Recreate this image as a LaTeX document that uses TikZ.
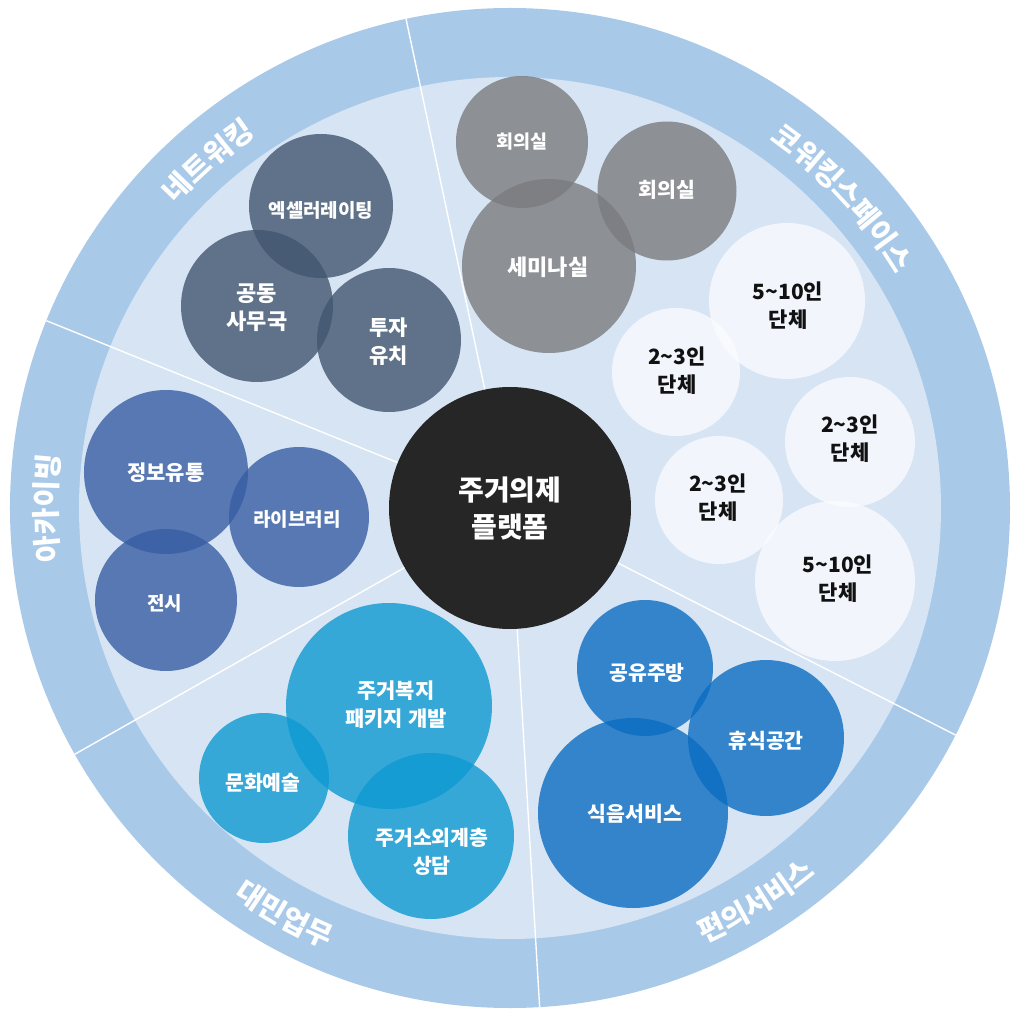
\documentclass[tikz,border=0pt]{standalone}
\usepackage{fontspec}
\setmainfont{Noto Sans CJK KR}
\usetikzlibrary{decorations.text}
\definecolor{ringc}{HTML}{A9C9E9}
\definecolor{innerc}{HTML}{D6E4F4}
\definecolor{slatec}{HTML}{43566F}
\definecolor{archc}{HTML}{385DA3}
\definecolor{cyanc}{HTML}{0D9AD2}
\definecolor{bluec}{HTML}{0B6DC1}
\definecolor{grayc}{HTML}{7B7B7E}
\definecolor{whitec}{HTML}{FAFBFE}
\definecolor{corec}{HTML}{262626}
\definecolor{darktext}{HTML}{111111}
\begin{document}
\begin{tikzpicture}[x=1pt,y=1pt,
  bub/.style={circle, inner sep=0pt, outer sep=0pt, draw=none, fill opacity=0.8, minimum size=#1},
  slate/.style={bub=#1, fill=slatec},
  arch/.style={bub=#1, fill=archc},
  cyanb/.style={bub=#1, fill=cyanc},
  blueb/.style={bub=#1, fill=bluec},
  grayb/.style={bub=#1, fill=grayc},
  whiteb/.style={bub=#1, fill=whitec},
  lbl/.style={text=white, align=center, inner sep=0pt, font=\bfseries\fontsize{#1}{28}\selectfont},
  dlbl/.style={lbl=#1, text=darktext},
  sepline/.style={draw=white, line width=1.4pt},
  ringlbl/.style={decorate, decoration={text along path, text align=center, text color=white, text={#1}}}
]
\useasboundingbox (-510,-504) rectangle (500,508);
% rings
\fill[ringc] (0,0) circle[radius=500];
\fill[innerc] (0,0) circle[radius=431];
% sector lines
\coordinate (O) at (0,0);
\coordinate (s1) at (102:500);
\coordinate (s2) at (158:500);
\coordinate (s3) at (209.5:500);
\coordinate (s4) at (273.4:500);
\coordinate (s5) at (333:500);
\foreach \e in {s1,s2,s3,s4,s5} \draw[sepline] (O) -- (\e);
% ring labels
\path[ringlbl={|\bfseries\fontsize{29}{30}\selectfont|네트워킹}] (171:451) arc[start angle=171, end angle=91, radius=451];
\path[ringlbl={|\bfseries\fontsize{29}{30}\selectfont|코워킹스페이스}] (93:451) arc[start angle=93, end angle=-7, radius=451];
\path[ringlbl={|\bfseries\fontsize{29}{30}\selectfont|아카이빙}] (220:453) arc[start angle=220, end angle=140, radius=453];
\path[ringlbl={|\bfseries\fontsize{29}{30}\selectfont|대민업무}] (201:477) arc[start angle=201, end angle=281, radius=477];
\path[ringlbl={|\bfseries\fontsize{29}{30}\selectfont|편의서비스}] (262:477) arc[start angle=262, end angle=342, radius=477];
% networking
\node[slate=144] (accel) at (-189,302) {};
\node[slate=152] (office) at (-253,202) {};
\node[slate=144] (invest) at (-121,168) {};
% archiving
\node[arch=164] (info) at (-344,36) {};
\node[arch=140] (lib) at (-211,-9) {};
\node[arch=142] (exhib) at (-344,-92) {};
% civil
\node[cyanb=206] (pkg) at (-121,-198) {};
\node[cyanb=130] (culture) at (-246,-270) {};
\node[cyanb=166] (consult) at (-79,-328) {};
% convenience
\node[blueb=136] (kitchen) at (135,-160) {};
\node[blueb=156] (rest) at (256,-230) {};
\node[blueb=190] (food) at (123,-305) {};
% coworking
\node[grayb=132] (meet1) at (12,366) {};
\node[grayb=139] (meet2) at (157,317) {};
\node[grayb=174] (seminar) at (39,242) {};
\node[whiteb=156] (w1) at (277,207) {};
\node[whiteb=128] (w2) at (166,136) {};
\node[whiteb=130] (w3) at (340,66) {};
\node[whiteb=128] (w4) at (209,8) {};
\node[whiteb=160] (w5) at (325,-73) {};
% core
\node[circle, fill=corec, inner sep=0pt, minimum size=242] (core) at (0,0) {};
% labels
\node[lbl=28, font=\bfseries\fontsize{28}{37}\selectfont] (core-t) at (core) {주거의제\\플랫폼};
\node[lbl=19] (accel-t) at (-189,298) {엑셀러레이팅};
\node[lbl=22] (office-t) at (-253,200) {공동\\사무국};
\node[lbl=21] (invest-t) at (-121,166) {투자\\유치};
\node[lbl=21] (info-t) at (-344,35) {정보유통};
\node[lbl=19] (lib-t) at (-213,-11) {라이브러리};
\node[lbl=19] (exhib-t) at (-345,-95) {전시};
\node[lbl=21] (pkg-t) at (-114,-197) {주거복지\\패키지 개발};
\node[lbl=20.5] (culture-t) at (-247,-275) {문화예술};
\node[lbl=20.5] (consult-t) at (-78,-344) {주거소외계층\\상담};
\node[lbl=20.5] (kitchen-t) at (137,-165) {공유주방};
\node[lbl=20.5] (rest-t) at (256,-233) {휴식공간};
\node[lbl=20.5] (food-t) at (125,-306) {식음서비스};
\node[lbl=18.5] (meet1-t) at (12,366) {회의실};
\node[lbl=20.5] (meet2-t) at (157,318) {회의실};
\node[lbl=22] (seminar-t) at (38,241) {세미나실};
\node[dlbl=21] (w1-t) at (278,202) {5\textasciitilde10인\\단체};
\node[dlbl=21] (w2-t) at (167,137) {2\textasciitilde3인\\단체};
\node[dlbl=21] (w3-t) at (340,69) {2\textasciitilde3인\\단체};
\node[dlbl=21] (w4-t) at (208,10) {2\textasciitilde3인\\단체};
\node[dlbl=21] (w5-t) at (328,-71) {5\textasciitilde10인\\단체};
\end{tikzpicture}
\end{document}
